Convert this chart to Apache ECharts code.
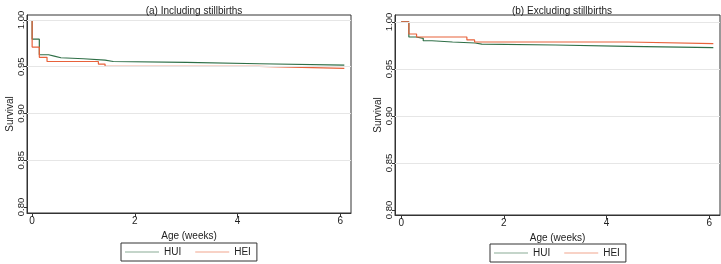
<!DOCTYPE html>
<html>
<head>
<meta charset="utf-8">
<script src="https://cdn.jsdelivr.net/npm/echarts@6/dist/echarts.min.js"></script>
<style>
  html, body { margin: 0; padding: 0; background: #fff; }
  #chart-container { width: 721px; height: 264px; }
</style>
</head>
<body>
<div id="chart-container"></div>
<script>
var dom = document.getElementById("chart-container");
var myChart = echarts.init(dom, null, { renderer: "canvas" });

// (a) Including stillbirths
var weeksA_HUI = [0, 0, 0.14, 0.32, 0.43, 0.56, 1.0, 1.42, 1.58, 3.0, 4.43, 6.08];
var survA_HUI = [1.0, 0.9795, 0.9628, 0.9614, 0.9596, 0.9585, 0.957, 0.9556, 0.9546, 0.9532, 0.9516, 0.9516];
var weeksA_HEI = [0, 0, 0.14, 0.29, 1.29, 1.42, 4.42, 6.08];
var survA_HEI = [1.0, 0.971, 0.96, 0.9556, 0.9528, 0.9503, 0.9482, 0.9482];

// (b) Excluding stillbirths
var weeksB_HUI = [0, 0.15, 0.29, 0.43, 0.6, 1.0, 1.44, 1.57, 3.0, 4.42, 6.08];
var survB_HUI = [1.0, 0.984, 0.9826, 0.98, 0.9787, 0.9776, 0.9765, 0.9755, 0.9741, 0.9727, 0.9727];
var weeksB_HEI = [0, 0.15, 0.3, 1.28, 1.43, 4.42, 6.08];
var survB_HEI = [1.0, 0.9872, 0.984, 0.9809, 0.9787, 0.9769, 0.9769];

var xTicks = [0, 2, 4, 6];
var yTicks = [0.8, 0.85, 0.9, 0.95, 1.0];
var gridTicks = [0.85, 0.9, 0.95, 1.0];

var green = "#2f6f47";
var orange = "#e8623b";
var font = "Liberation Sans";

function pairs(xs, ys) {
  var out = [];
  for (var i = 0; i < xs.length; i++) out.push([xs[i], ys[i]]);
  return out;
}

function gridLines() {
  return {
    silent: true,
    symbol: "none",
    label: { show: false },
    lineStyle: { color: "#e6e6e6", width: 1, type: "solid" },
    data: gridTicks.map(function (v) { return { yAxis: v }; }),
  };
}

function xAxisDef(idx, min, max) {
  return {
    type: "value",
    gridIndex: idx,
    min: min,
    max: max,
    name: "Age (weeks)",
    nameLocation: "middle",
    nameGap: 16,
    nameTextStyle: { fontFamily: font, fontSize: 10, color: "#222" },
    axisLine: { onZero: false, lineStyle: { color: "#333", width: 1 } },
    axisTick: { customValues: xTicks, length: 4, lineStyle: { color: "#333" } },
    axisLabel: { customValues: xTicks, margin: 3, fontFamily: font, fontSize: 10, color: "#222" },
    splitLine: { show: false },
  };
}

function yAxisDef(idx, min, max) {
  return {
    type: "value",
    gridIndex: idx,
    min: min,
    max: max,
    name: "Survival",
    nameLocation: "middle",
    nameGap: 12,
    nameTextStyle: { fontFamily: font, fontSize: 10, color: "#222" },
    axisLine: { show: true, onZero: false, lineStyle: { color: "#333", width: 1 } },
    axisTick: { show: true, customValues: yTicks, length: 3, lineStyle: { color: "#333" } },
    axisLabel: {
      customValues: yTicks,
      rotate: 90,
      margin: 1,
      fontFamily: font,
      fontSize: 9.5,
      color: "#222",
      formatter: function (v) { return v.toFixed(2); },
    },
    splitLine: { show: false },
  };
}

function km(name, idx, data, color, withGrid) {
  var s = {
    name: name,
    type: "line",
    xAxisIndex: idx,
    yAxisIndex: idx,
    step: "end",
    symbol: "none",
    data: data,
    lineStyle: { color: color, width: 1.2 },
    itemStyle: { color: color },
    z: 3,
  };
  if (withGrid) s.markLine = gridLines();
  return s;
}

function legendDef(left, top) {
  return {
    left: left,
    top: top,
    orient: "horizontal",
    borderColor: "#333",
    borderWidth: 1,
    borderRadius: 0,
    padding: [4, 6, 4, 4],
    itemGap: 14,
    itemWidth: 34,
    itemHeight: 10,
    textStyle: { fontFamily: font, fontSize: 10, color: "#222" },
    data: [
      { name: "HUI", icon: "path://M0,4.5L34,4.5L34,5.5L0,5.5Z", itemStyle: { color: "#8aab96" } },
      { name: "HEI", icon: "path://M0,4.5L34,4.5L34,5.5L0,5.5Z", itemStyle: { color: "#f2a68e" } },
    ],
    selectedMode: false,
  };
}

var option = {
  backgroundColor: "#fff",
  animation: false,
  title: [
    { text: "(a) Including stillbirths", left: 189, top: 1, textAlign: "center",
      textStyle: { fontFamily: font, fontSize: 10, fontWeight: "normal", color: "#222" } },
    { text: "(b) Excluding stillbirths", left: 557, top: 1, textAlign: "center",
      textStyle: { fontFamily: font, fontSize: 10, fontWeight: "normal", color: "#222" } },
  ],
  grid: [
    { left: 27, right: 370, top: 15, bottom: 51, show: true, borderColor: "#333", borderWidth: 1 },
    { left: 395, right: 1, top: 15, bottom: 49, show: true, borderColor: "#333", borderWidth: 1 },
  ],
  xAxis: [xAxisDef(0, -0.1, 6.21), xAxisDef(1, -0.12, 6.21)],
  yAxis: [yAxisDef(0, 0.7936, 1.0053), yAxisDef(1, 0.7947, 1.0074)],
  legend: [legendDef(121, 243), legendDef(490, 244)],
  series: [
    km("HUI", 0, pairs(weeksA_HUI, survA_HUI), green, true),
    km("HEI", 0, pairs(weeksA_HEI, survA_HEI), orange, false),
    km("HUI", 1, pairs(weeksB_HUI, survB_HUI), green, true),
    km("HEI", 1, pairs(weeksB_HEI, survB_HEI), orange, false),
  ],
};

myChart.setOption(option);
window.addEventListener("resize", myChart.resize);
</script>
</body>
</html>
